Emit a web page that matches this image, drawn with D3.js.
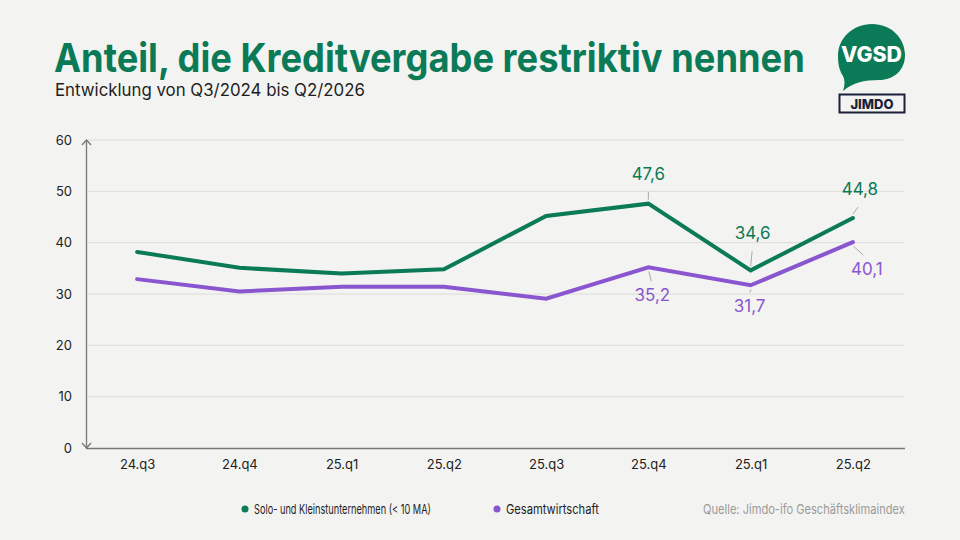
<!DOCTYPE html>
<html>
<head>
  <meta charset="utf-8">
  <title>Anteil, die Kreditvergabe restriktiv nennen</title>
  <script src="https://d3js.org/d3.v7.min.js"></script>
  <style>
    body { margin: 0; background: #f3f3f1; }
    svg { display: block; font-family: Inter, "Noto Sans", sans-serif; }
  </style>
</head>
<body>
<div id="chart"></div>
<script>
// data
var quarters = ["24.q3", "24.q4", "25.q1", "25.q2", "25.q3", "25.q4", "25.q1 ", "25.q2 "];
var solo = [38.2, 35.1, 34.0, 34.8, 45.2, 47.6, 34.6, 44.8];
var gesamt = [32.9, 30.5, 31.4, 31.4, 29.1, 35.2, 31.7, 40.1];
var yTicks = [0, 10, 20, 30, 40, 50, 60];
// which points get a value label: [index, dx, dy of label relative to point]
var soloLabels = [[5, 0, -24], [6, 2, -31], [7, 7, -23]];
var gesamtLabels = [[5, 4, 28], [6, -1, 21], [7, 14, 27]];

var green = "#0b7a56", purple = "#8a56cf";

var W = 960, H = 540;
var svg = d3.select("#chart").append("svg")
  .attr("width", W).attr("height", H);

svg.append("rect").attr("width", W).attr("height", H).attr("fill", "#f3f3f1");

// squeeze a text horizontally so it spans the given width, starting at x0
function fit(sel, x0, y0, width) {
  var w = sel.node().getComputedTextLength();
  sel.attr("x", 0).attr("y", 0)
    .attr("transform", "translate(" + x0 + "," + y0 + ") scale(" + (width / w) + ",1)");
  return sel;
}

// title
fit(svg.append("text")
  .attr("fill", green).attr("font-size", 40).attr("font-weight", 700)
  .text("Anteil, die Kreditvergabe restriktiv nennen"), 54, 72, 751);
fit(svg.append("text")
  .attr("fill", "#1e1e1e").attr("font-size", 17)
  .text("Entwicklung von Q3/2024 bis Q2/2026"), 55, 96, 310);

// logos
var logo = svg.append("g");
logo.append("path")
  .attr("d", "M872,24 C891,24 905,38 905,55 C905,70 894,80 879,80 C864,80 852,83 843,91 C845,85 845,80 843,76 C839,70 838,63 838,56 C838,38 853,24 872,24 Z")
  .attr("fill", green);
fit(logo.append("text")
  .attr("fill", "#fff").attr("font-size", 21).attr("font-weight", 800)
  .text("VGSD"), 841, 62, 61);
logo.append("rect").attr("x", 839.5).attr("y", 94.5).attr("width", 65).attr("height", 18)
  .attr("fill", "none").attr("stroke", "#1b1f3b").attr("stroke-width", 2);
logo.append("text").attr("x", 872).attr("y", 108.5).attr("text-anchor", "middle")
  .attr("fill", "#1b1f3b").attr("font-size", 13).attr("font-weight", 800)
  .text("JIMDO");

// scales
var x = d3.scalePoint().domain(quarters).range([86, 904]).padding(0.5);
var y = d3.scaleLinear().domain([0, 60]).range([448, 140]);

// grid
svg.append("g").selectAll("line").data(yTicks.slice(1)).enter().append("line")
  .attr("x1", 86).attr("x2", 904)
  .attr("y1", function(d) { return y(d); }).attr("y2", function(d) { return y(d); })
  .attr("stroke", "#dcdcda").attr("stroke-width", 1);

// y axis
var yAxis = svg.append("g").attr("transform", "translate(86,0)")
  .call(d3.axisLeft(y).tickValues(yTicks).tickSize(0).tickPadding(14));
yAxis.select(".domain").remove();
yAxis.selectAll("text").attr("font-size", 13).attr("fill", "#222")
  .attr("font-family", "Inter, sans-serif");

// x axis
var xAxis = svg.append("g").attr("transform", "translate(0,448)")
  .call(d3.axisBottom(x).tickSize(0).tickPadding(12));
xAxis.select(".domain").remove();
xAxis.selectAll("text").attr("font-size", 13).attr("fill", "#222")
  .attr("font-family", "Inter, sans-serif");

svg.append("line").attr("x1", 86).attr("x2", 905).attr("y1", 448.5).attr("y2", 448.5)
  .attr("stroke", "#777").attr("stroke-width", 1.3);
svg.append("line").attr("x1", 86.5).attr("x2", 86.5).attr("y1", 140).attr("y2", 448)
  .attr("stroke", "#777").attr("stroke-width", 1.3);
// arrow heads
svg.append("path").attr("d", "M82,145 L86.5,140 L91,145 M82,443 L86.5,448 L91,443")
  .attr("fill", "none").attr("stroke", "#777").attr("stroke-width", 1.3);

// lines
var line = d3.line()
  .x(function(d, i) { return x(quarters[i]); })
  .y(function(d) { return y(d); });

svg.append("path").datum(gesamt).attr("d", line)
  .attr("fill", "none").attr("stroke", purple).attr("stroke-width", 4)
  .attr("stroke-linejoin", "miter").attr("stroke-linecap", "round");
svg.append("path").datum(solo).attr("d", line)
  .attr("fill", "none").attr("stroke", green).attr("stroke-width", 4)
  .attr("stroke-linejoin", "miter").attr("stroke-linecap", "round");

// value labels with small leader lines
function labels(values, spec, color) {
  spec.forEach(function(s) {
    var i = s[0], px = x(quarters[i]), py = y(values[i]);
    var lx = px + s[1], ly = py + s[2];
    var up = s[2] < 0;
    svg.append("line")
      .attr("x1", px + (up ? 0 : 0.5)).attr("y1", py + (up ? -4 : 4))
      .attr("x2", px + s[1] * 0.75).attr("y2", ly + (up ? 12 : -14))
      .attr("stroke", "#aaa").attr("stroke-width", 1);
    svg.append("text").attr("x", lx).attr("y", ly + (up ? 0 : 6))
      .attr("text-anchor", "middle").attr("fill", color).attr("font-size", 17)
      .text(String(values[i]).replace(".", ","));
  });
}
labels(solo, soloLabels, green);
labels(gesamt, gesamtLabels, purple);

// legend
var legend = [["Solo- und Kleinstunternehmen (< 10 MA)", green, 245, 177], ["Gesamtwirtschaft", purple, 497, 93]];
legend.forEach(function(l) {
  svg.append("circle").attr("cx", l[2]).attr("cy", 509).attr("r", 3.5).attr("fill", l[1]);
  fit(svg.append("text")
    .attr("font-size", 13).attr("fill", "#1e1e1e")
    .text(l[0]), l[2] + 9, 513.5, l[3]);
});
fit(svg.append("text")
  .attr("font-size", 13).attr("fill", "#9a9a9a")
  .text("Quelle: Jimdo-ifo Geschäftsklimaindex"), 703, 513.5, 202);
</script>
</body>
</html>
